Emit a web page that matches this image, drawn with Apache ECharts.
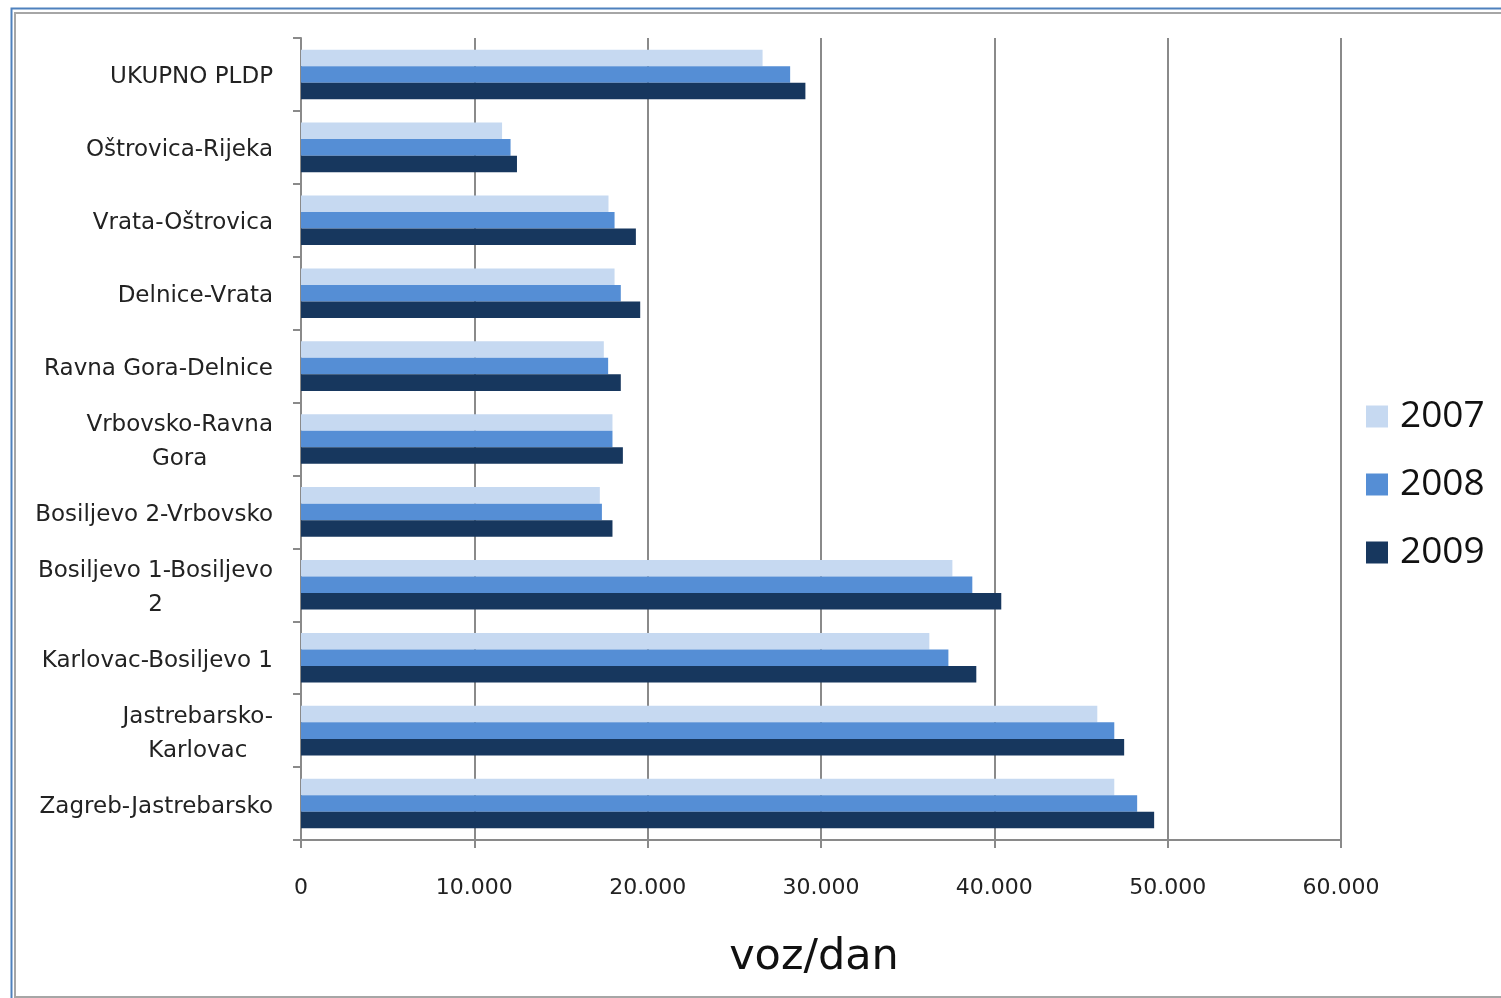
<!DOCTYPE html>
<html>
<head>
<meta charset="utf-8">
<script src="https://cdn.jsdelivr.net/npm/echarts@6/dist/echarts.min.js"></script>
<style>
  html, body { margin: 0; padding: 0; background: #fff; }
  #chart { width: 1501px; height: 998px; }
</style>
</head>
<body>
<div id="chart"></div>
<script>
'use strict';
// dionice, odozgo prema dolje
var dionice = ['UKUPNO PLDP', 'Oštrovica-Rijeka', 'Vrata-Oštrovica', 'Delnice-Vrata',
  'Ravna Gora-Delnice', 'Vrbovsko-Ravna\nGora', 'Bosiljevo 2-Vrbovsko',
  'Bosiljevo 1-Bosiljevo\n2', 'Karlovac-Bosiljevo 1', 'Jastrebarsko-\nKarlovac', 'Zagreb-Jastrebarsko'];
var godine = ['2007', '2008', '2009'];
var pldp2007 = [26630, 11600, 17740, 18090, 17470, 17970, 17240, 37580, 36250, 45940, 46920];
var pldp2008 = [28220, 12090, 18090, 18450, 17720, 17970, 17360, 38730, 37350, 46920, 48240];
var pldp2009 = [29100, 12460, 19320, 19570, 18450, 18570, 17970, 40400, 38960, 47490, 49220];
var boje = ['#c6d9f1', '#558ed5', '#17375e'];

var myChart = echarts.init(document.getElementById('chart'));
var sivo = '#8a8a8a';
var font = 'DejaVu Sans';

var option = {
  animation: false,
  graphic: [
    //okvir
    { type: 'rect', shape: { x: 11.5, y: 8.5, width: 1600, height: 1600 }, style: { fill: 'none', stroke: '#4f81bd', lineWidth: 2 } },
    { type: 'rect', shape: { x: 15, y: 13, width: 1600, height: 984 }, style: { fill: 'none', stroke: '#a6a6a6', lineWidth: 2 } }
  ],
  grid: { left: 301, top: 38, right: 160, bottom: 158 },
  legend: {
    data: godine,
    orient: 'vertical',
    left: 1366,
    top: 398,
    padding: 0,
    itemGap: 31,
    itemWidth: 22,
    itemHeight: 22,
    icon: 'rect',
    textStyle: { fontFamily: 'Open Sans', fontSize: 37, color: '#111', padding: [0, 0, 0, 7] }
  },
  xAxis: {
    type: 'value',
    min: 0,
    max: 60000,
    interval: 10000,
    name: 'voz/dan',
    nameLocation: 'middle',
    nameGap: 96,
    nameTextStyle: { fontFamily: font, fontSize: 43, color: '#111', padding: [0, 14, 0, 0] },
    axisLine: { show: true, lineStyle: { color: sivo, width: 2 } },
    axisTick: { show: true, length: 8, lineStyle: { color: sivo, width: 2 } },
    splitLine: { show: true, lineStyle: { color: sivo, width: 2 } },
    axisLabel: {
      margin: 37,
      fontFamily: font,
      fontSize: 22,
      color: '#222',
      formatter: function (v) {
        return String(v).replace(/\B(?=(\d{3})+(?!\d))/g, '.');
      }
    }
  },
  yAxis: {
    type: 'category',
    inverse: true,
    data: dionice,
    axisLine: { show: true, lineStyle: { color: sivo, width: 2 } },
    axisTick: { show: true, length: 8, lineStyle: { color: sivo, width: 2 } },
    axisLabel: {
      margin: 28,
      padding: [6, 0, 0, 0],
      color: '#222',
      formatter: function (v) {
        return v.split('\n').map(function (s) { return '{c|' + s + '}'; }).join('\n');
      },
      rich: {
        c: { align: 'center', fontFamily: font, fontSize: 23, lineHeight: 34, color: '#222' }
      }
    }
  },
  series: [
    { name: '2007', type: 'bar', data: pldp2007, itemStyle: { color: boje[0] }, barGap: '0%', barCategoryGap: '32%' },
    { name: '2008', type: 'bar', data: pldp2008, itemStyle: { color: boje[1] }, barGap: '0%', barCategoryGap: '32%' },
    { name: '2009', type: 'bar', data: pldp2009, itemStyle: { color: boje[2] }, barGap: '0%', barCategoryGap: '32%' }
  ]
};
myChart.setOption(option);
</script>
</body>
</html>
